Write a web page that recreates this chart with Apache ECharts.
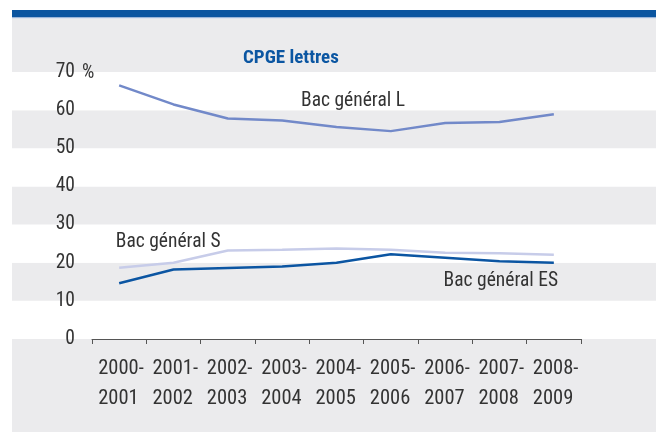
<!DOCTYPE html>
<html><head><meta charset="utf-8">
<script src="https://cdn.jsdelivr.net/npm/echarts@6/dist/echarts.min.js"></script>
<style>html,body{margin:0;padding:0;background:#fff}#c{width:656px;height:432px}</style>
</head><body><div id="c"></div>
<script>
const categories = ['2000-2001','2001-2002','2002-2003','2003-2004','2004-2005','2005-2006','2006-2007','2007-2008','2008-2009'];
const bacL  = [66.5, 61.5, 57.8, 57.3, 55.6, 54.5, 56.6, 56.9, 58.9];
const bacS  = [18.7, 20.0, 23.2, 23.4, 23.7, 23.4, 22.6, 22.5, 22.1];
const bacES = [14.6, 18.2, 18.6, 19.0, 20.0, 22.2, 21.3, 20.4, 20.0];
const yTicks = [0, 10, 20, 30, 40, 50, 60, 70];
const seriesNames = ['Bac général L', 'Bac général S', 'Bac général ES'];
const titleText = 'CPGE lettres';

const FONT = "'Roboto Condensed', 'Noto Sans Condensed', 'Liberation Sans Narrow', 'DejaVu Sans Condensed', sans-serif";
const FS = 19.5;
const GREY = '#ebebed';
const TOP = 72, BOTTOM = 432 - 339;

function withLabel(arr, idx, text, offset) {
  return arr.map((v, i) => i === idx ? {
    value: v,
    label: { show: true, formatter: text, position: 'inside', offset: offset,
      color: '#333', fontFamily: FONT, fontSize: FS }
  } : v);
}

const chart = echarts.init(document.getElementById('c'), null, {renderer: 'canvas'});
chart.setOption({
  animation: false,
  backgroundColor: '#fff',
  title: { text: titleText, left: 238, top: 44,
    textStyle: { color: '#0b56a2', fontFamily: FONT, fontWeight: 'bold', fontSize: 19 } },
  graphic: [
    { type: 'rect', shape: { x: 12, y: 10, width: 644, height: 8 }, style: { fill: '#0b55a0' }, silent: true, z: -10 },
    { type: 'rect', shape: { x: 12, y: 17, width: 644, height: 1.5 }, style: { fill: '#9bb6da' }, silent: true, z: -10 },
    { type: 'rect', shape: { x: 12, y: 18.5, width: 644, height: TOP - 18.5 }, style: { fill: GREY }, silent: true, z: -10 },
    { type: 'rect', shape: { x: 12, y: 432 - BOTTOM, width: 644, height: BOTTOM }, style: { fill: GREY }, silent: true, z: -10 }
  ],
  grid: [
    { left: 92, right: 75, top: TOP, bottom: BOTTOM },
    { left: 12, right: 0, top: TOP, bottom: BOTTOM, z: -5 }
  ],
  xAxis: [
    { type: 'category', data: categories, gridIndex: 0, boundaryGap: true,
      axisLine: { show: true, lineStyle: { color: '#555', width: 1 } },
      axisTick: { show: true, length: 5, inside: false, alignWithLabel: false, lineStyle: { color: '#555' } },
      axisLabel: { margin: 15, interval: 0, color: '#333',
        formatter: v => { const p = v.split('-'); return '{a|' + p[0] + '-}\n{a|' + p[1] + '}'; },
        rich: { a: { fontFamily: FONT, fontSize: 20.5, lineHeight: 30, width: 42, align: 'left', color: '#333' } } },
      splitLine: { show: false } },
    { type: 'category', data: categories, gridIndex: 1, show: false }
  ],
  yAxis: [
    { type: 'value', gridIndex: 0, min: 0, max: 70, interval: 10,
      name: '%', nameLocation: 'end', nameGap: -11,
      nameTextStyle: { color: '#333', fontFamily: FONT, fontSize: FS, align: 'left', padding: [0, 0, 0, -10] },
      axisLine: { show: false }, axisTick: { show: false }, splitLine: { show: false },
      axisLabel: { margin: 17, color: '#333', fontFamily: FONT, fontSize: FS, padding: [3, 0, 0, 0],
        formatter: v => yTicks.includes(v) ? String(v) : '' } },
    { type: 'value', gridIndex: 1, min: 0, max: 70, interval: 10,
      axisLine: { show: false }, axisTick: { show: false }, axisLabel: { show: false },
      splitLine: { show: false },
      splitArea: { show: true, areaStyle: { color: ['#ffffff', GREY] } } }
  ],
  series: [
    { name: seriesNames[0], type: 'line', data: withLabel(bacL, 4, seriesNames[0], [16.5, -25.7]),
      symbol: 'circle', symbolSize: 1, itemStyle: { color: 'transparent' },
      lineStyle: { color: '#7289c9', width: 2.5 }, z: 3 },
    { name: seriesNames[1], type: 'line', data: withLabel(bacS, 0, seriesNames[1], [49, -26]),
      symbol: 'circle', symbolSize: 1, itemStyle: { color: 'transparent' },
      lineStyle: { color: '#c7cce9', width: 2.5 }, z: 2 },
    { name: seriesNames[2], type: 'line', data: withLabel(bacES, 8, seriesNames[2], [-53, 18]),
      symbol: 'circle', symbolSize: 1, itemStyle: { color: 'transparent' },
      lineStyle: { color: '#0b55a2', width: 2.5 }, z: 4 }
  ]
});
</script></body></html>
